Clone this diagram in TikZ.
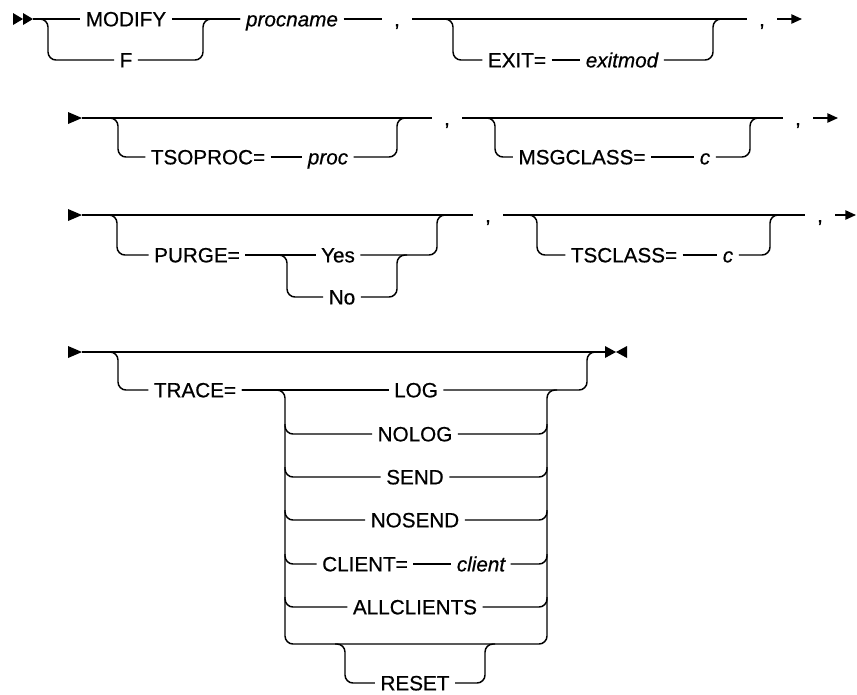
\documentclass[tikz,border=0pt]{standalone}
\usepackage{fontspec}
\newfontfamily\railfont[FakeBold=0.6]{Liberation Sans}
\usetikzlibrary{arrows.meta}

\tikzset{
  rail/.style={line width=1.1pt, rounded corners=6pt},
  kw/.style={font=\railfont\fontsize{15.5}{17}\selectfont, inner xsep=4pt, inner ysep=0pt, text height=11pt, text depth=0pt},
  var/.style={kw, font=\railfont\itshape\fontsize{15.5}{17}\selectfont},
  sep/.style={kw, inner xsep=9pt},
  fin/.style={line width=1.1pt, -{Triangle[length=8pt,width=7pt]}}
}

\begin{document}
\begin{tikzpicture}[x=0.75pt,y=-0.75pt]
\useasboundingbox (0,0) rectangle (857,694);
\fill[white] (0,0) rectangle (857,694);

% fila 1
\coordinate (s1) at (33,19);
\fill (13,13) -- (23,19) -- (13,25) -- cycle;
\fill (23,13) -- (33,19) -- (23,25) -- cycle;
\node[kw] (modify) at (126,19) {MODIFY};
\node[kw] (f) at (126,60) {F};
\node[var] (procname) at (292,19) {procname};
\node[sep] (c1) at (397,19) {,};
\node[kw] (exit) at (517,60) {EXIT=};
\node[var] (exitmod) at (622,60) {exitmod};
\node[sep] (c2) at (762,19) {,};
\coordinate (e1) at (802,19);
\coordinate (r1a) at (48,19);  \coordinate (r1b) at (203,19);
\coordinate (x1a) at (453,19); \coordinate (x1b) at (713,19);
\draw[rail] (s1) -- (modify.west);
\draw[rail] (modify.east) -- (procname.west);
\draw[rail] (s1) -- (r1a) |- (f.west);
\draw[rail] (f.east) -| (r1b) -- (procname.west);
\draw[rail] (procname.east) -- (c1.west);
\draw[rail] (c1.east) -- (c2.west);
\draw[rail] ([xshift=-7.5pt]x1a) -- (x1a) |- (exit.west);
\draw[rail] (exit.east) -- (exitmod.west);
\draw[rail] (exitmod.east) -| (x1b) -- ++(10,0);
\draw[fin] (c2.east) -- (e1);

% fila 2
\coordinate (s2) at (82,118);
\fill (s2) -- ++(-14,-6) -- ++(0,12) -- cycle;
\node[kw] (tsoproc) at (208,157) {TSOPROC=};
\node[var] (proc) at (328,157) {proc};
\node[sep] (c3) at (447,118) {,};
\node[kw] (msgclass) at (582,157) {MSGCLASS=};
\node[var] (msgc) at (705,157) {c};
\node[sep] (c4) at (798,118) {,};
\coordinate (e2) at (838,118);
\coordinate (r2a) at (118,118); \coordinate (r2b) at (397,118);
\coordinate (m2a) at (495,118); \coordinate (m2b) at (750,118);
\draw[rail] (s2) -- (c3.west);
\draw[rail] (c3.east) -- (c4.west);
\draw[rail] ([xshift=-7.5pt]r2a) -- (r2a) |- (tsoproc.west);
\draw[rail] (tsoproc.east) -- (proc.west);
\draw[rail] (proc.east) -| (r2b) -- ++(10,0);
\draw[rail] ([xshift=-7.5pt]m2a) -- (m2a) |- (msgclass.west);
\draw[rail] (msgclass.east) -- (msgc.west);
\draw[rail] (msgc.east) -| (m2b) -- ++(10,0);
\draw[fin] (c4.east) -- (e2);

% fila 3
\coordinate (s3) at (82,215);
\fill (s3) -- ++(-14,-6) -- ++(0,12) -- cycle;
\node[kw] (purge) at (197,255) {PURGE=};
\node[kw] (yes) at (338,255) {Yes};
\node[kw] (no) at (342,297) {No};
\node[sep] (c5) at (488,215) {,};
\node[kw] (tsclass) at (624,255) {TSCLASS=};
\node[var] (tsc) at (728,255) {c};
\node[sep] (c6) at (820,215) {,};
\coordinate (e3) at (856,215);
\coordinate (r3a) at (117,215); \coordinate (r3b) at (437,215);
\coordinate (p3a) at (287,255); \coordinate (p3b) at (397,255);
\coordinate (t3a) at (537,215); \coordinate (t3b) at (770,215);
\draw[rail] (s3) -- (c5.west);
\draw[rail] (c5.east) -- (c6.west);
\draw[rail] ([xshift=-7.5pt]r3a) -- (r3a) |- (purge.west);
\draw[rail] (purge.east) -- (yes.west);
\draw[rail] ([xshift=-7.5pt]p3a) -- (p3a) |- (no.west);
\draw[rail] (no.east) -| (p3b) -- ++(10,0);
\draw[rail] (yes.east) -| (r3b) -- ++(10,0);
\draw[rail] ([xshift=-7.5pt]t3a) -- (t3a) |- (tsclass.west);
\draw[rail] (tsclass.east) -- (tsc.west);
\draw[rail] (tsc.east) -| (t3b) -- ++(10,0);
\draw[fin] (c6.east) -- (e3);

% fila 4
\coordinate (s4) at (82,352);
\fill (s4) -- ++(-14,-6) -- ++(0,12) -- cycle;
\coordinate (e4) at (605,352);
\fill (e4) -- ++(0,-6) -- ++(11,6) -- ++(11,-6) -- ++(0,12) -- ++(-11,-6) -- ++(-11,6) -- cycle;
\node[kw] (trace) at (195,390) {TRACE=};
\node[kw] (log) at (416,390) {LOG};
\coordinate (r4a) at (118,352); \coordinate (r4b) at (587,352);
\coordinate (tl) at (285,390); \coordinate (tr) at (547,390);
\coordinate (br) at (547,644);
\draw[rail] (s4) -- (e4);
\draw[rail] ([xshift=-7.5pt]r4a) -- (r4a) |- (trace.west);
\draw[rail] (trace.east) -- (log.west);
\draw[rail] (log.east) -| (r4b) -- ++(10,0);
\draw[rail] (trace.east) -- (tl) |- (br) -- (tr) -- ++(10,0);
% opciones de TRACE
\foreach \t/\y/\n in {NOLOG/434/nolog, SEND/477/send, NOSEND/520/nosend, ALLCLIENTS/607/allc} {
  \node[kw] (\n) at (415,\y) {\t};
  \draw[rail] (285,\y-10) |- (\n.west);
  \draw[rail] (\n.east) -| (547,\y-10);
}
\node[kw] (clientkw) at (365,564) {CLIENT=};
\node[var] (client) at (481,564) {client};
\draw[rail] (285,554) |- (clientkw.west);
\draw[rail] (clientkw.east) -- (client.west);
\draw[rail] (client.east) -| (547,554);
\node[kw] (reset) at (415,683) {RESET};
\coordinate (q4a) at (345,644); \coordinate (q4b) at (485,644);
\draw[rail] ([xshift=-7.5pt]q4a) -- (q4a) |- (reset.west);
\draw[rail] (reset.east) -| (q4b) -- ++(10,0);
\end{tikzpicture}
\end{document}
